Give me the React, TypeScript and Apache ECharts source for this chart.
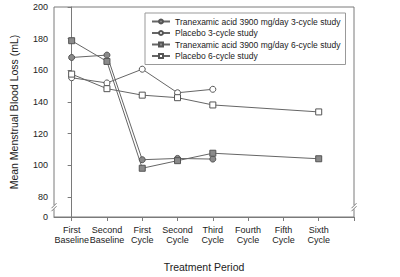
import React, { useEffect, useRef } from "react";
import * as echarts from "echarts";

const categories = [
  "First\nBaseline",
  "Second\nBaseline",
  "First\nCycle",
  "Second\nCycle",
  "Third\nCycle",
  "Fourth\nCycle",
  "Fifth\nCycle",
  "Sixth\nCycle",
];

const seriesNames = [
  "Tranexamic acid 3900 mg/day 3-cycle study",
  "Placebo 3-cycle study",
  "Tranexamic acid 3900 mg/day 6-cycle study",
  "Placebo 6-cycle study",
];

const txa3 = [168.1, 169.6, 103.5, 104.3, 103.9, null, null, null];
const pbo3 = [155.3, 152.0, 160.7, 145.8, 148.0, null, null, null];
const txa6 = [178.7, 165.6, 98.1, 102.9, 107.6, null, null, 104.1];
const pbo6 = [157.6, 148.4, 144.3, 142.7, 138.1, null, null, 133.7];

const yTicks = [80, 100, 120, 140, 160, 180, 200];
const yBottom = 67.3; // shown as "0" (broken axis)

const FONT = "Liberation Sans, Arial, sans-serif";
const AXIS = "#7a7a7a";
const LINE = "#666";
const MARK = "#555";

export default function App() {
  const ref = useRef<HTMLDivElement>(null);
  useEffect(() => {
    document.body.style.margin = "0";
    if (!ref.current) return;
    const chart = echarts.init(ref.current, null, { renderer: "svg" });
    const mk = (
      name: string,
      vals: (number | null)[],
      symbol: string,
      fill: string
    ) => ({
      name,
      type: "line",
      data: vals.map((v, i) => [i, v]),
      connectNulls: true,
      symbol,
      symbolSize: 6,
      showSymbol: true,
      lineStyle: { color: LINE, width: 1 },
      itemStyle: { color: fill, borderColor: MARK, borderWidth: 1 },
      emphasis: { disabled: true },
    });
    chart.setOption({
      animation: false,
      textStyle: { fontFamily: FONT },
      grid: {
        left: 48,
        top: 7,
        right: 46,
        bottom: 56,
        show: true,
        borderColor: AXIS,
        borderWidth: 1,
      },
      legend: {
        orient: "vertical",
        left: 145,
        top: 13,
        padding: [4, 5, 4, 6],
        borderColor: "#999",
        borderWidth: 1,
        itemWidth: 18,
        itemHeight: 5,
        itemGap: 2.5,
        data: seriesNames,
        textStyle: { fontSize: 8.5, color: "#222", fontFamily: FONT, lineHeight: 8 },
      },
      xAxis: {
        type: "value",
        min: -0.5,
        max: 8,
        name: "Treatment Period",
        nameLocation: "middle",
        nameGap: 44,
        nameTextStyle: { fontSize: 10.5, color: "#222", fontFamily: FONT },
        axisLine: { lineStyle: { color: AXIS } },
        axisTick: {
          show: true,
          length: 4,
          customValues: [0, 1, 2, 3, 4, 5, 6, 7, 8],
          lineStyle: { color: AXIS },
        },
        axisLabel: {
          customValues: [0, 1, 2, 3, 4, 5, 6, 7],
          formatter: (v: number) => categories[Math.round(v)] ?? "",
          fontSize: 9,
          lineHeight: 10,
          color: "#222",
          margin: 8,
          fontFamily: FONT,
        },
        splitLine: { show: false },
      },
      yAxis: {
        type: "value",
        min: yBottom,
        max: 200,
        name: "Mean Menstrual Blood Loss (mL)",
        nameLocation: "middle",
        nameGap: 35,
        nameTextStyle: { fontSize: 10.5, color: "#222", fontFamily: FONT },
        axisLine: { show: true, lineStyle: { color: AXIS } },
        axisTick: {
          show: true,
          length: 4,
          customValues: [yBottom, ...yTicks],
          lineStyle: { color: AXIS },
        },
        axisLabel: {
          customValues: [yBottom, ...yTicks],
          formatter: (v: number) => (v < 70 ? "0" : String(Math.round(v))),
          fontSize: 9,
          color: "#222",
          margin: 6,
          fontFamily: FONT,
        },
        splitLine: { show: false },
      },
      series: [
        mk(seriesNames[0], txa3, "circle", "#8a8a8a"),
        mk(seriesNames[1], pbo3, "circle", "#fff"),
        mk(seriesNames[2], txa6, "rect", "#8a8a8a"),
        mk(seriesNames[3], pbo6, "rect", "#fff"),
      ],
    });

    // axis-break marks
    const bp = chart.convertToPixel({ gridIndex: 0 }, [-0.5, 73.5]) as number[];
    const rp = chart.convertToPixel({ gridIndex: 0 }, [8, 73.5]) as number[];
    const brk = (x: number, y: number) => [
      { type: "rect", shape: { x: x - 1.5, y: y - 2, width: 3, height: 4 }, style: { fill: "#fff" }, z: 100 },
      { type: "line", shape: { x1: x - 2.5, y1: y + 1, x2: x + 2.5, y2: y - 4 }, style: { stroke: AXIS, lineWidth: 1 }, z: 101 },
      { type: "line", shape: { x1: x - 2.5, y1: y + 4, x2: x + 2.5, y2: y - 1 }, style: { stroke: AXIS, lineWidth: 1 }, z: 101 },
    ];
    chart.setOption({ graphic: [...brk(bp[0], bp[1]), ...brk(rp[0], rp[1])] });

    return () => chart.dispose();
  }, []);
  return <div ref={ref} style={{ width: 400, height: 277 }} />;
}
